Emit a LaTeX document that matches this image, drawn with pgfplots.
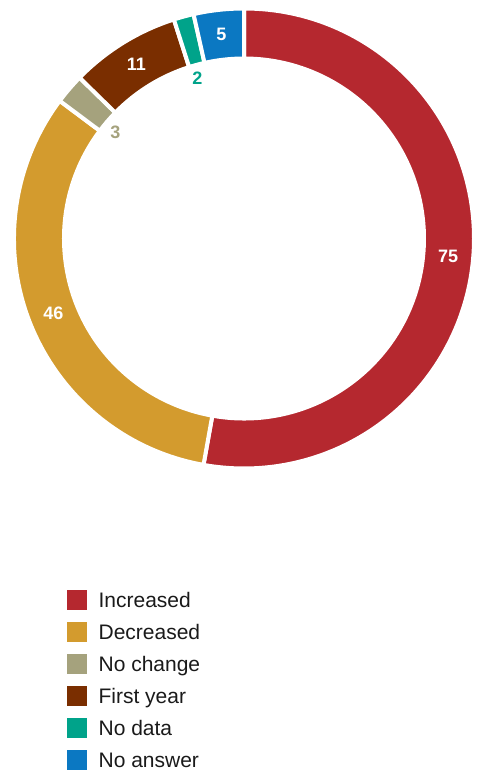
\documentclass[border=0pt]{standalone}
\usepackage{fontspec}
\setmainfont{Liberation Sans}
\usepackage{pgfplots}
\usepackage{pgfplotstable}
\pgfplotsset{compat=1.18}

\definecolor{cInc}{HTML}{B5282F}
\definecolor{cDec}{HTML}{D39B2E}
\definecolor{cNoc}{HTML}{A5A27D}
\definecolor{cFir}{HTML}{7A2E00}
\definecolor{cNod}{HTML}{00A38A}
\definecolor{cNoa}{HTML}{0B78C2}
\definecolor{txt}{HTML}{1A1A1A}

% survey answers, drawn clockwise from 12 o'clock
\pgfplotstableread{
label      value color
Increased  75    cInc
Decreased  46    cDec
Nochange   3     cNoc
Firstyear  11    cFir
Nodata     2     cNod
Noanswer   5     cNoa
}\answers

% ring geometry in px (1 axis unit = 1pt)
\def\cx{244}\def\cy{533.5}
\def\Rout{230}\def\Rin{180}

\begin{document}
\begin{tikzpicture}
\begin{axis}[
    x=1pt, y=1pt,
    xmin=0, xmax=480, ymin=0, ymax=772,
    hide axis, clip=false, disabledatascaling,
    legend cell align=left,
    legend image code/.code={\fill[#1] (0pt,-9.5pt) rectangle (19pt,9.5pt);},
    legend style={at={(axis cs:67,182)}, anchor=north west, draw=none,
        fill=none, inner sep=0pt, row sep=12.6pt,
        font=\fontsize{21}{23}\selectfont, text=txt,
        nodes={inner sep=0pt, text depth=0pt},
        /tikz/every odd column/.append style={column sep=12pt}},
]
\def\total{0}
\pgfplotsforeachungrouped \i in {0,...,5}{%
    \pgfplotstablegetelem{\i}{value}\of\answers
    \pgfmathsetmacro\total{\total+\pgfplotsretval}%
    \xdef\total{\total}%
}
\def\cum{0}
\pgfplotsforeachungrouped \i in {0,...,5}{%
    \pgfplotstablegetelem{\i}{value}\of\answers \let\v\pgfplotsretval
    \pgfplotstablegetelem{\i}{color}\of\answers \let\c\pgfplotsretval
    \pgfmathsetmacro\sa{90-\cum/\total*360}%
    \pgfmathsetmacro\cum{\cum+\v}\xdef\cum{\cum}%
    \pgfmathsetmacro\ea{90-\cum/\total*360}%
    \pgfmathsetmacro\ma{(\sa+\ea)/2}%
    \pgfmathsetmacro\xo{\cx+\Rout*cos(\sa)}\pgfmathsetmacro\yo{\cy+\Rout*sin(\sa)}%
    \pgfmathsetmacro\xi{\cx+\Rin*cos(\ea)}\pgfmathsetmacro\yi{\cy+\Rin*sin(\ea)}%
    \ifnum\v<4
        \pgfmathsetmacro\lx{\cx+167*cos(\ma+1)}\pgfmathsetmacro\ly{\cy+167*sin(\ma+1)}%
        \edef\lbl{\noexpand\node[text=\c, font=\noexpand\fontsize{18}{18}\noexpand\selectfont\noexpand\bfseries]
            at (axis cs:\lx,\ly) {\v};}%
    \else
        \pgfmathsetmacro\lx{\cx+205*cos(\ma)}\pgfmathsetmacro\ly{\cy+205*sin(\ma)}%
        \edef\lbl{\noexpand\node[text=white, font=\noexpand\fontsize{18}{18}\noexpand\selectfont\noexpand\bfseries]
            at (axis cs:\lx,\ly) {\v};}%
    \fi
    \edef\seg{\noexpand\filldraw[fill=\c, draw=white, line width=4pt, line join=miter]
        (axis cs:\xo,\yo) arc[start angle=\sa, end angle=\ea, radius=\Rout pt]
        -- (axis cs:\xi,\yi) arc[start angle=\ea, end angle=\sa, radius=\Rin pt] -- cycle;}%
    \seg
    \lbl
}
\addlegendimage{cInc}\addlegendentry{Increased}
\addlegendimage{cDec}\addlegendentry{Decreased}
\addlegendimage{cNoc}\addlegendentry{No change}
\addlegendimage{cFir}\addlegendentry{First year}
\addlegendimage{cNod}\addlegendentry{No data}
\addlegendimage{cNoa}\addlegendentry{No answer}
\end{axis}
\pgfresetboundingbox
\path (0,0) rectangle (480pt,772pt);
\end{tikzpicture}
\end{document}
